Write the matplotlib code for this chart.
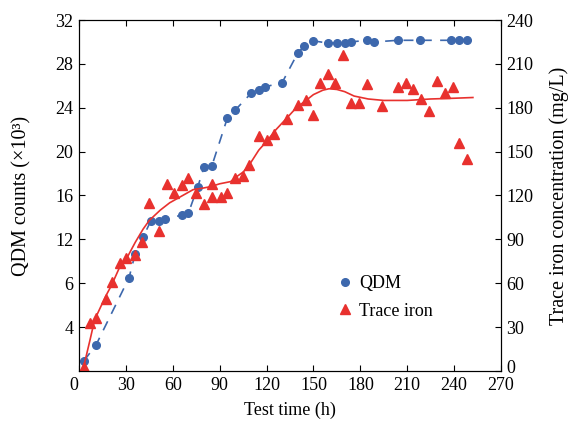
import numpy as np
import matplotlib
matplotlib.use("Agg")
import matplotlib.pyplot as plt
import matplotlib.transforms as mtransforms
from matplotlib.lines import Line2D

plt.rcParams['font.family'] = ['Liberation Serif', 'DejaVu Serif']

# QDM counts (x10^3), left axis
qdm_t = [3, 11, 32, 36, 41, 46, 51, 55, 66, 70, 76, 80, 85, 95, 100, 110, 115, 119,
         130, 140, 144, 150, 159, 165, 170, 174, 184, 189, 204, 218, 238, 243, 248]
qdm_y = [0.9, 2.4, 8.5, 10.7, 12.2, 13.7, 13.7, 13.9, 14.2, 14.4, 16.8, 18.6, 18.7,
         23.1, 23.8, 25.3, 25.6, 25.9, 26.3, 29.0, 29.6, 30.1, 29.9, 29.9, 29.9, 30.0,
         30.15, 30.0, 30.15, 30.15, 30.15, 30.15, 30.15]

# trace iron (mg/L), right axis
fe_t = [3, 7, 11, 17, 21, 26, 30, 36, 40, 45, 51, 56, 61, 66, 70, 75, 80, 85, 85, 91,
        95, 100, 105, 109, 115, 120, 125, 133, 140, 145, 150, 154, 159, 164, 169, 174,
        179, 184, 194, 204, 209, 214, 219, 224, 229, 234, 239, 243, 248]
fe_y = [2.5, 33, 36, 49, 61, 74, 77, 79, 88, 115, 96, 128, 122, 127, 132, 122, 114,
        128, 119, 119, 122, 132, 133, 141, 161, 158, 162, 172, 182, 185, 175, 197, 203,
        197, 216, 183, 183, 196, 181, 194, 197, 193, 186, 178, 198, 190, 194, 156, 145]

# fitted curve for trace iron
fit_t = [3, 7, 10, 17, 21, 26, 31, 36, 41, 45, 52, 58, 63, 68, 73, 79, 84, 90, 97, 101,
         105, 109, 115, 120, 126, 133, 139, 144, 150, 156, 160, 165, 170, 176, 185, 195,
         210, 225, 240, 252]
fit_y = [3, 21, 35, 51, 59, 71, 78, 88, 97, 103, 110, 115, 118, 121, 124, 125, 126, 128,
         129.5, 133, 136, 141, 151, 157, 165, 173, 180, 184, 189, 192, 193, 192.5, 191,
         188, 186, 185, 185, 186, 186.5, 187]

x_ticks = [0, 30, 60, 90, 120, 150, 180, 210, 240, 270]
left_ticks = [4, 8, 12, 16, 20, 24, 28, 32]
left_labels = ["4", "6", "12", "16", "20", "24", "28", "32"]
right_ticks = [0, 30, 60, 90, 120, 150, 180, 210, 240]

blue = "#3d68ad"
red = "#e8312e"

fig = plt.figure(figsize=(5.7, 4.22), dpi=100)
ax = fig.add_axes([0.1386, 0.1209, 0.7404, 0.8317])
ax2 = ax.twinx()

ax.plot(qdm_t, qdm_y, color=blue, ls=(0, (6, 5)), lw=1.2)
ax.plot(qdm_t, qdm_y, 'o', color=blue, ms=5.5, mec=blue)
ax2.plot(fit_t, fit_y, color=red, lw=1.2)
ax2.plot(fe_t, fe_y, '^', color=red, ms=6.5, mec=red)

ax.set_xlim(0, 270)
ax.set_ylim(0, 32)
ax2.set_ylim(0, 240)
ax.set_xticks(x_ticks)
ax.set_yticks(left_ticks)
ax.set_yticklabels(left_labels)
ax2.set_yticks(right_ticks)

ax.tick_params(direction='in', length=4, labelsize=13, top=True, pad=4)
ax2.tick_params(direction='in', length=4, labelsize=13, pad=4)

# lift the right-hand "0" a little so it clears the "270" below it
lbl0 = ax2.get_yticklabels()[0]
lbl0.set_transform(lbl0.get_transform() +
                   mtransforms.ScaledTranslation(0, 3.5 / 72, fig.dpi_scale_trans))
# the corner "0" on the x axis sits a bit left of the spine in the original
xl0 = ax.get_xticklabels()[0]
xl0.set_transform(xl0.get_transform() +
                  mtransforms.ScaledTranslation(-4 / 72, 0, fig.dpi_scale_trans))

ax.set_xlabel("Test time (h)", fontsize=13, labelpad=6)
ax.set_ylabel("QDM counts (×10³)", fontsize=14.5, labelpad=17)
ax2.set_ylabel("Trace iron concentration (mg/L)", fontsize=14.5, labelpad=11)

handles = [Line2D([], [], marker='o', ls='none', color=blue, ms=5.5),
           Line2D([], [], marker='^', ls='none', color=red, ms=6.5)]
ax.legend(handles, ["QDM", "Trace iron"], loc='center left',
          bbox_to_anchor=(0.6 - 12 / 422, 0.21), frameon=False, fontsize=13,
          handlelength=0.9, handletextpad=0.35, labelspacing=0.6)

fig.savefig("out.png", dpi=100)
